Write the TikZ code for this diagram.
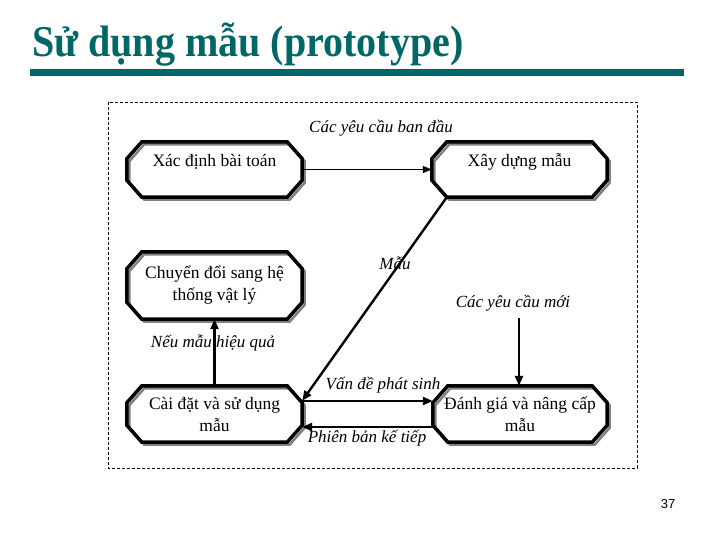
\documentclass[tikz,border=0pt]{standalone}
\usepackage{fontspec}
\setmainfont{Liberation Serif}
\newfontfamily\titlefont[FakeStretch=0.91]{Liberation Serif}
\newfontfamily\numfont{Liberation Sans}
\usetikzlibrary{calc,arrows.meta}
\definecolor{tealc}{RGB}{0,102,102}
\definecolor{shadowc}{RGB}{128,128,128}
\newcommand\octpath[1]{($(#1.north west)+(15,0)$) -- ($(#1.north east)+(-15,0)$) -- ($(#1.north east)+(0,17)$) -- ($(#1.south east)+(0,-17)$) -- ($(#1.south east)+(-15,0)$) -- ($(#1.south west)+(15,0)$) -- ($(#1.south west)+(0,-17)$) -- ($(#1.north west)+(0,17)$) -- cycle}
\newcommand\octbox[1]{%
  \draw[shadowc, line width=2.5pt, transform canvas={xshift=2.5pt,yshift=-2.5pt}] \octpath{#1};
  \draw[black, line width=3.5pt, line join=miter] \octpath{#1};}
\newcommand\up[1]{\raisebox{8pt}[\height][\depth]{#1}}
\begin{document}
\begin{tikzpicture}[x=1pt,y=-1pt,
  boxnode/.style={rectangle, inner sep=0pt, minimum width=175pt, align=center,
    font=\fontsize{17.5}{22}\selectfont},
  lbl/.style={inner sep=0pt, font=\fontsize{17}{20}\selectfont\itshape},
  conn/.style={line width=2.4pt, -{Triangle[length=10pt,width=8pt]}},
  thinconn/.style={line width=1.4pt, -{Triangle[length=9pt,width=7pt]}}]
\useasboundingbox (0,0) rectangle (720,540);
% title
\node[anchor=base west, inner sep=0pt, text=tealc, font=\titlefont\bfseries\fontsize{44}{48}\selectfont] (title) at (32,57) {Sử dụng mẫu (prototype)};
\fill[tealc] (30,69) rectangle (684,76);
% frame
\draw[line width=0.8pt, dash pattern=on 3pt off 2pt] (108,102) rectangle (637,468);
% boxes
\node[boxnode, minimum height=55pt] (b1) at (214.5,169.5) {\up{Xác định bài toán}};
\node[boxnode, minimum height=55pt] (b2) at (519.5,169.5) {\up{Xây dựng mẫu}};
\node[boxnode, minimum height=67pt] (b3) at (214.5,285.5) {Chuyển đổi sang hệ\\thống vật lý};
\node[boxnode, minimum height=56pt] (b4) at (214.5,414) {Cài đặt và sử dụng\\mẫu};
\node[boxnode, minimum height=56pt, minimum width=174pt] (b5) at (520,414) {Đánh giá và nâng cấp\\mẫu};
\octbox{b1}\octbox{b2}\octbox{b3}\octbox{b4}\octbox{b5}
% connectors
\draw[thinconn] (b1.east) -- (b2.west);
\draw[conn] ($(b2.south west)+(15,0)$) -- ($(b4.north east)+(0,15)$);
\draw[conn] (b4.north) -- (b3.south);
\coordinate (nr) at (519,318);
\draw[conn] (nr) -- (nr |- b5.north);
\draw[conn] ($(b4.east)+(0,-13)$) -- ($(b5.west)+(0,-13)$);
\draw[conn] ($(b5.west)+(0,13)$) -- ($(b4.east)+(0,13)$);
% labels
\node[lbl] (l1) at (381,128) {Các yêu cầu ban đầu};
\node[lbl] (l2) at (395,263) {Mẫu};
\node[lbl] (l3) at (513,303) {Các yêu cầu mới};
\node[lbl] (l4) at (213,343) {Nếu mẫu hiệu quả};
\node[lbl] (l5) at (383,385) {Vấn đề phát sinh};
\node[lbl] (l6) at (367,438) {Phiên bản kế tiếp};
\node[inner sep=0pt, font=\numfont\fontsize{13}{15}\selectfont] (pg) at (668,504) {37};
\end{tikzpicture}
\end{document}
